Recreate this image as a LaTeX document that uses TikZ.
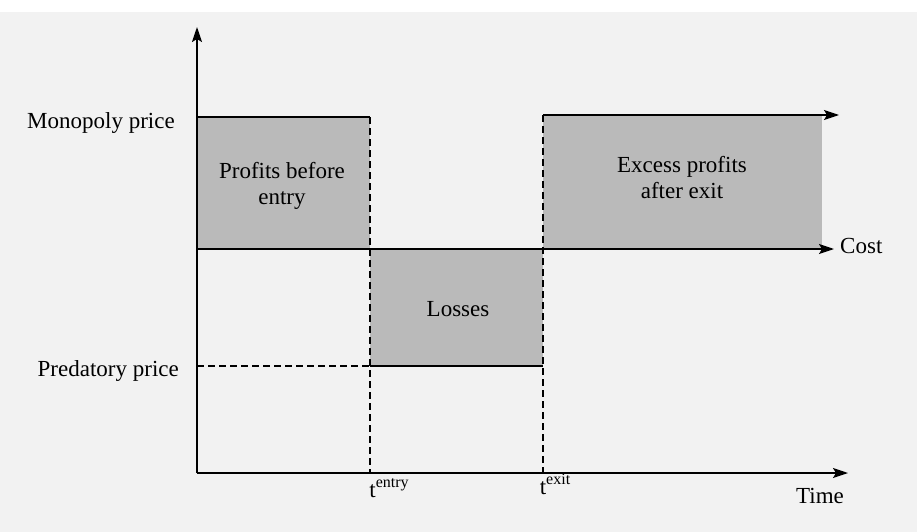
\documentclass[tikz,border=0pt]{standalone}
\usepackage{fontspec}
\setmainfont{Liberation Serif}
\usetikzlibrary{arrows.meta}
\newcommand{\mysup}[1]{\raisebox{0.45em}{\fontsize{16}{18}\selectfont #1}}
\begin{document}
\begin{tikzpicture}[x=1pt,y=-1pt,
  axisline/.style={line width=1.7pt,-{Stealth[length=15pt,width=10pt,inset=3pt]}},
  solidline/.style={line width=1.5pt},
  dashline/.style={line width=1.3pt,dash pattern=on 7pt off 4pt},
  area/.style={fill=black!27},
  lbl/.style={font=\fontsize{23}{26}\selectfont,inner sep=0pt},
  boxlbl/.style={lbl,align=center}]
\useasboundingbox (0,0) rectangle (917,532);
\fill[black!5] (0,12) rectangle (917,532);
% coordinates
\coordinate (O) at (197,473);
\coordinate (Ytop) at (197,27);
\coordinate (Xend) at (848,473);
\coordinate (m0) at (197,117);
\coordinate (m1) at (370,117);
\coordinate (c0) at (197,249);
\coordinate (c1) at (370,249);
\coordinate (c2) at (543,249);
\coordinate (cend) at (834,249);
\coordinate (p0) at (197,366);
\coordinate (p1) at (370,366);
\coordinate (p2) at (543,366);
\coordinate (e0) at (543,115);
\coordinate (e1) at (822,115);
\coordinate (e2) at (822,249);
\coordinate (eend) at (839,115);
\coordinate (te) at (370,473);
\coordinate (tx) at (543,473);
% shaded areas
\fill[area] (m0) rectangle (c1);
\fill[area] (c1) rectangle (p2);
\fill[area] (e0) rectangle (e2);
% lines
\draw[solidline] (m0) -- (m1);
\draw[axisline] (c0) -- (cend);
\draw[axisline] (e0) -- (eend);
\draw[dashline] (p0) -- (p1);
\draw[solidline] (p1) -- (p2);
\draw[dashline] (m1) -- (te);
\draw[dashline] (e0) -- (tx);
\draw[axisline] (O) -- (Ytop);
\draw[axisline] (O) -- (Xend);
% labels
\node[lbl,anchor=east] (mono) at (175,123) {Monopoly price};
\node[lbl,anchor=east] (pred) at (179,371) {Predatory price};
\node[lbl,anchor=west] (cost) at (840,246) {Cost};
\node[lbl] (time) at (820,496) {Time};
\node[lbl] (tentry) at (389,488) {t\mysup{entry}};
\node[lbl] (texit) at (555,484) {t\mysup{exit}};
\node[boxlbl] (pbe) at (282,186) {Profits before\\entry};
\node[boxlbl] (loss) at (458,309) {Losses};
\node[boxlbl] (epe) at (682,178) {Excess profits\\after exit};
\end{tikzpicture}
\end{document}
